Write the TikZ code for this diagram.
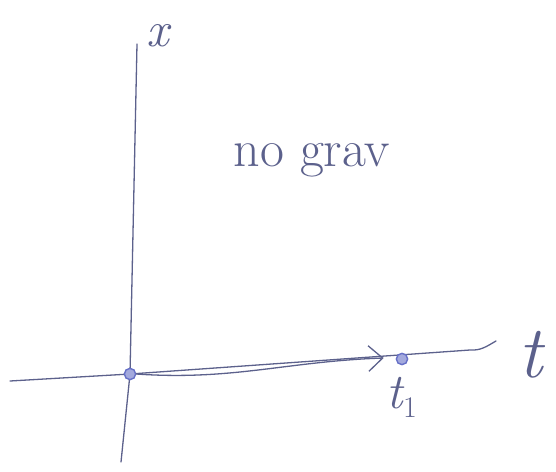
\documentclass[tikz,border=0pt]{standalone}
\usetikzlibrary{arrows.meta}
\definecolor{pencil}{rgb}{0.36,0.38,0.55}
\definecolor{inkblue}{rgb}{0.40,0.44,0.78}

\begin{document}
\begin{tikzpicture}[x=1pt, y=-1pt, >={Straight Barb[length=5mm, width=9mm]},
  axis/.style={pencil, line width=1.3pt, line cap=round},
  dot/.style={circle, fill=inkblue!60, draw=inkblue, line width=1.4pt, inner sep=4pt},
  lbl/.style={pencil, inner sep=0pt}]
  \useasboundingbox (0,0) rectangle (556,471);
  \coordinate (o) at (130,374);
  % axes
  \draw[axis] (10,381) -- (o) -- (470,350) to[out=-4, in=210] (496,341);
  \draw[axis] (121,462) -- (o) -- (137,44);
  \node[lbl, font=\fontsize{50}{54}\selectfont\itshape] (xlab) at (158,36) {x};
  \node[lbl, font=\fontsize{74}{78}\selectfont\itshape] (tlab) at (531,355) {t};
  \node[lbl, font=\fontsize{52}{56}\selectfont] (grav) at (312,160) {no grav};
  % points
  \node[dot] (t1) at (402,359) {};
  \node[dot] (t0) at (o) {};
  \node[lbl, font=\fontsize{50}{54}\selectfont, below=18pt] (t1lab) at (t1)
    {\itshape t\raisebox{-9pt}{\upshape\fontsize{30}{32}\selectfont 1}};
  \draw[->, axis] (t0.east) to[out=-4, in=182] ([xshift=-12pt, yshift=1pt]t1.west);
\end{tikzpicture}
\end{document}
